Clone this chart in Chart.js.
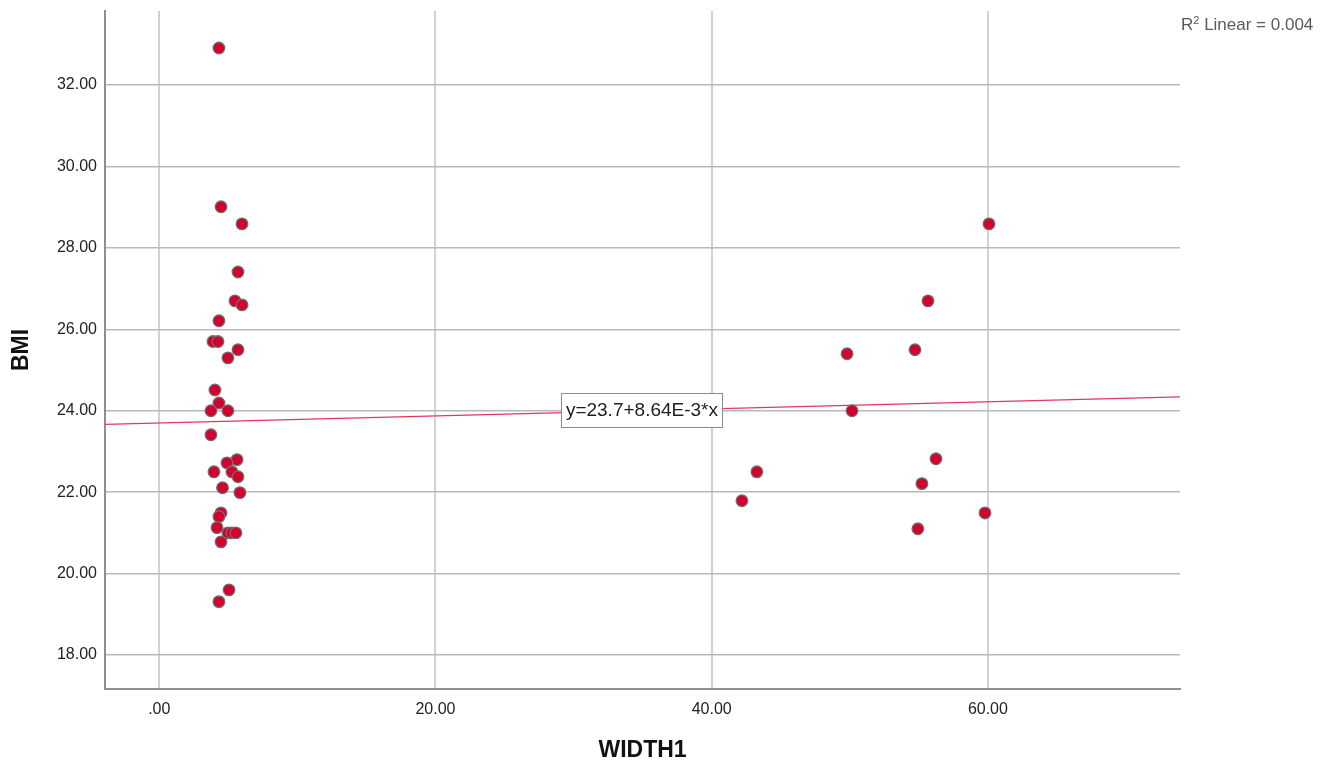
<!DOCTYPE html>
<html>
<head>
<meta charset="utf-8">
<script src="https://cdn.jsdelivr.net/npm/chart.js@4"></script>
<style>
  html, body { margin: 0; padding: 0; background: #fff; }
  #wrap { position: relative; width: 1332px; height: 767px; }
  #r2 { position: absolute; left: 1181px; top: 17px; font: 17px "Liberation Sans", Arial, sans-serif; color: #5a5a5a; line-height: 16px; white-space: nowrap; }
  #r2 sup { font-size: 11px; line-height: 0; vertical-align: 6px; }
</style>
</head>
<body>
<div id="wrap">
  <canvas id="c" width="1332" height="767"></canvas>
  <div id="r2">R<sup>2</sup> Linear = 0.004</div>
</div>
<script>
// ---- data ----
const widthVals = [
  4.32, 4.47, 5.99, 5.70, 5.48, 5.99, 4.32, 3.89, 4.25, 5.70,
  4.97, 4.03, 4.32, 3.74, 4.97, 3.74, 5.63, 4.90, 3.96, 5.26,
  5.70, 4.58, 5.84, 4.47, 4.32, 4.18, 4.97, 5.26, 5.55, 4.47,
  5.05, 4.32,
  60.08, 55.66, 49.80, 54.72, 50.16, 56.24, 43.27, 55.22, 42.19, 59.79, 54.93
];
const bmiVals = [
  32.91, 29.01, 28.59, 27.41, 26.70, 26.60, 26.21, 25.70, 25.70, 25.50,
  25.30, 24.51, 24.19, 24.00, 24.00, 23.41, 22.80, 22.72, 22.50, 22.50,
  22.38, 22.11, 21.99, 21.49, 21.40, 21.13, 21.00, 21.00, 21.00, 20.78,
  19.60, 19.31,
  28.59, 26.70, 25.40, 25.50, 24.00, 22.82, 22.50, 22.21, 21.79, 21.49, 21.10
];
// fit line endpoints (y = 23.7 + 8.64E-3 * x at the axis limits)
const fitX = [-3.93, 73.91];
const fitY = [23.666, 24.339];
const fitLabel = "y=23.7+8.64E-3*x";
const fitLabelAt = [34.95, 24.02];
const xTicks = [0, 20, 40, 60];
const yTicks = [18, 20, 22, 24, 26, 28, 30, 32];
const xTitle = "WIDTH1";
const yTitle = "BMI";

const points = widthVals.map((v, i) => ({ x: v, y: bmiVals[i] }));
const fitPts = fitX.map((v, i) => ({ x: v, y: fitY[i] }));

const fmt = v => { let s = Number(v).toFixed(2); if (s.startsWith('0.')) s = s.slice(1); return s; };

const FONT = '"Liberation Sans", Arial, sans-serif';

const eqPlugin = {
  id: 'eqLabel',
  afterDatasetsDraw(chart) {
    const ctx = chart.ctx;
    const px = chart.scales.x.getPixelForValue(fitLabelAt[0]);
    const py = chart.scales.y.getPixelForValue(fitLabelAt[1]);
    ctx.save();
    ctx.font = '19px ' + FONT;
    const w = Math.round(ctx.measureText(fitLabel).width + 9);
    const h = 34;
    const bx = Math.round(px - w / 2) + 0.5, by = Math.round(py - h / 2) + 0.5;
    ctx.fillStyle = '#ffffff';
    ctx.fillRect(bx, by, w, h);
    ctx.strokeStyle = '#8c8c8c';
    ctx.lineWidth = 1;
    ctx.strokeRect(bx, by, w, h);
    ctx.fillStyle = '#1e1e1e';
    ctx.textAlign = 'center';
    ctx.textBaseline = 'middle';
    ctx.fillText(fitLabel, px, py + 1);
    ctx.restore();
  }
};

new Chart(document.getElementById('c'), {
  type: 'scatter',
  data: {
    datasets: [
      {
        type: 'line',
        data: fitPts,
        borderColor: '#e2385f',
        borderWidth: 1.3,
        pointRadius: 0,
        fill: false,
        order: 2
      },
      {
        data: points,
        backgroundColor: '#d3002e',
        borderColor: '#6e6e6e',
        borderWidth: 1.3,
        pointRadius: 5.8,
        order: 1
      }
    ]
  },
  options: {
    responsive: false,
    devicePixelRatio: 1,
    animation: false,
    layout: { padding: { top: 11, right: 152, left: 0, bottom: 0 } },
    plugins: { legend: { display: false }, tooltip: { enabled: false } },
    scales: {
      x: {
        type: 'linear',
        min: fitX[0],
        max: fitX[1],
        afterBuildTicks: s => { s.ticks = xTicks.map(v => ({ value: v })); },
        afterFit: s => { s.height = 78; s.paddingLeft = 0; s.paddingRight = 0; },
        ticks: { callback: v => fmt(v), font: { size: 16, family: FONT }, color: '#222', padding: 11, maxRotation: 0 },
        grid: { color: '#d2d2d2', lineWidth: 2, drawTicks: false },
        border: { color: '#8f8f8f', width: 2 },
        title: { display: true, text: xTitle, font: { size: 23, weight: 'bold', family: FONT }, color: '#111', padding: { top: 0, bottom: 3 } }
      },
      y: {
        type: 'linear',
        min: 17.165,
        max: 33.82,
        afterBuildTicks: s => { s.ticks = yTicks.map(v => ({ value: v })); },
        afterFit: s => { s.width = 105; s.paddingTop = 0; s.paddingBottom = 0; },
        ticks: { callback: v => fmt(v), font: { size: 16, family: FONT }, color: '#222', padding: 8 },
        grid: { color: '#b9b9b9', lineWidth: 1.5, drawTicks: false },
        border: { color: '#8f8f8f', width: 2 },
        title: { display: true, text: yTitle, font: { size: 23, weight: 'bold', family: FONT }, color: '#111', padding: { top: 8, bottom: 0 } }
      }
    }
  },
  plugins: [eqPlugin]
});
</script>
</body>
</html>
